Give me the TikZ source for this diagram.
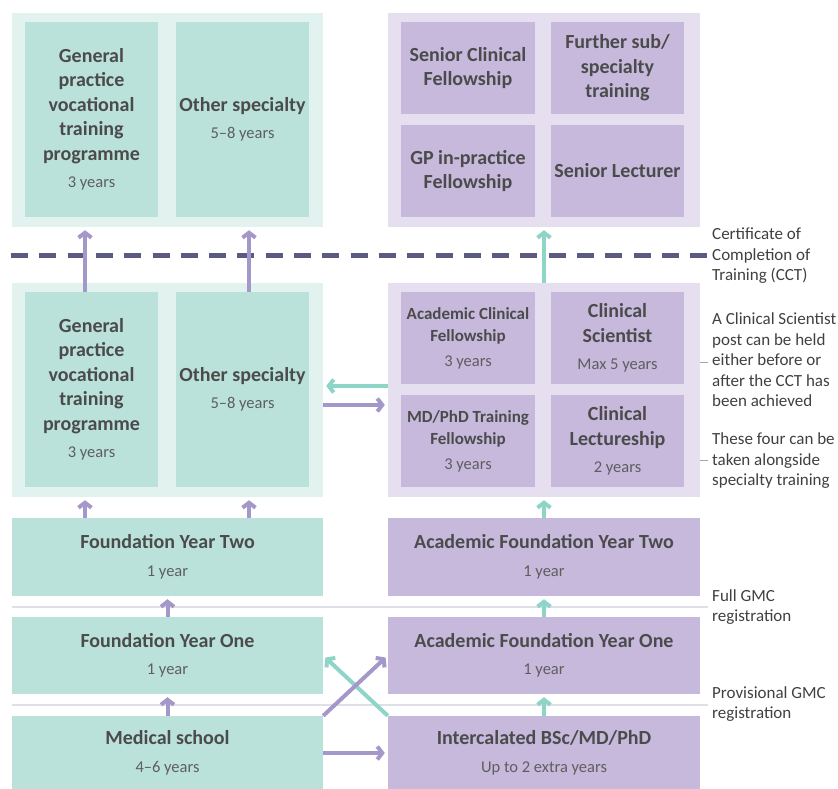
\documentclass[tikz,border=0pt]{standalone}
\usepackage{fontspec}
\setmainfont{Carlito}
\usepackage{xcolor}
\usepackage{tikz}
\usetikzlibrary{arrows.meta,calc,positioning}
\definecolor{tealbox}{HTML}{BAE2DB}
\definecolor{tealpanel}{HTML}{E1F2EF}
\definecolor{purplebox}{HTML}{C6B9DC}
\definecolor{purplepanel}{HTML}{E5DFEF}
\definecolor{tealarrow}{HTML}{8ED5C8}
\definecolor{purplearrow}{HTML}{A497C9}
\definecolor{cctline}{HTML}{5B5A80}
\definecolor{textdark}{HTML}{4B4B4B}
\definecolor{textsub}{HTML}{5E5E5E}
\definecolor{notetext}{HTML}{404040}
\definecolor{sepline}{HTML}{DFDFE8}
\newcommand{\yrs}[1]{\\[3pt]{\mdseries\fontsize{16.5}{19}\selectfont\color{textsub}#1}}
\tikzset{
  box/.style={inner sep=0pt, align=center, text=textdark, font=\bfseries\fontsize{20}{24.5}\selectfont},
  tbox/.style={box, fill=tealbox},
  pbox/.style={box, fill=purplebox},
  smallbox/.style={pbox, font=\bfseries\fontsize{17}{22}\selectfont},
  tpanel/.style={fill=tealpanel, inner sep=0pt, minimum width=311pt, minimum height=214pt},
  ppanel/.style={fill=purplepanel, inner sep=0pt, minimum width=312pt, minimum height=214pt},
  note/.style={anchor=west, align=left, inner sep=0pt, text=notetext, font=\fontsize{17}{20.5}\selectfont},
  tarrow/.style={draw=tealarrow, line width=4pt, -{Straight Barb[length=5pt,width=13pt]}, shorten >=3pt},
  parrow/.style={draw=purplearrow, line width=4pt, -{Straight Barb[length=5pt,width=13pt]}, shorten >=3pt},
  cct/.style={draw=cctline, line width=5pt, dash pattern=on 17pt off 11.3pt},
  sep/.style={draw=sepline, line width=2pt},
  tick/.style={draw=gray!70, line width=0.8pt}
}

\begin{document}
\begin{tikzpicture}[x=1pt,y=-1pt]
    \useasboundingbox (0,0) rectangle (838,789);
    % after the CCT
    \node (topleft) [tpanel] at (167.5,120) {};
    \node (gptop) [tbox,minimum width=133pt,minimum height=195pt] at (91.5,119.5)
    {General\\practice\\vocational\\training\\programme\yrs{3 years}};
    \node (ostop) [tbox,minimum width=133pt,minimum height=195pt] at (242.5,119.5)
    {Other specialty\yrs{5--8 years}};
    \node (topright) [ppanel] at (544,120) {};
    \node (scf) [pbox,minimum width=134pt,minimum height=92pt] at (468,68)
    {Senior Clinical\\Fellowship};
    \node (fss) [pbox,minimum width=133pt,minimum height=92pt] at (617.5,68)
    {Further sub/\\specialty\\training};
    \node (gpf) [pbox,minimum width=134pt,minimum height=92pt] at (468,171)
    {GP in-practice\\Fellowship};
    \node (sl) [pbox,minimum width=133pt,minimum height=92pt] at (617.5,171)
    {Senior Lecturer};
    % specialty training
    \node (midleft) [tpanel] at (167.5,390) {};
    \node (gpmid) [tbox,minimum width=133pt,minimum height=195pt] at (91.5,389.5)
    {General\\practice\\vocational\\training\\programme\yrs{3 years}};
    \node (osmid) [tbox,minimum width=133pt,minimum height=195pt] at (242.5,389.5)
    {Other specialty\yrs{5--8 years}};
    \node (midright) [ppanel] at (544,390) {};
    \node (acf) [smallbox,minimum width=134pt,minimum height=92pt] at (468,338)
    {Academic Clinical\\Fellowship\yrs{3 years}};
    \node (cs) [pbox,minimum width=133pt,minimum height=92pt] at (617.5,338)
    {Clinical\\Scientist\yrs{Max 5 years}};
    \node (mdf) [smallbox,minimum width=134pt,minimum height=92pt] at (468,441)
    {MD/PhD Training\\Fellowship\yrs{3 years}};
    \node (cl) [pbox,minimum width=133pt,minimum height=92pt] at (617.5,441)
    {Clinical\\Lectureship\yrs{2 years}};
    % foundation years
    \node (fy2) [tbox,minimum width=311pt,minimum height=78pt] at (167.5,557)
    {Foundation Year Two\yrs{1 year}};
    \node (afy2) [pbox,minimum width=312pt,minimum height=78pt] at (544,557)
    {Academic Foundation Year Two\yrs{1 year}};
    \node (fy1) [tbox,minimum width=311pt,minimum height=77pt] at (167.5,655.5)
    {Foundation Year One\yrs{1 year}};
    \node (afy1) [pbox,minimum width=312pt,minimum height=77pt] at (544,655.5)
    {Academic Foundation Year One\yrs{1 year}};
    \node (med) [tbox,minimum width=311pt,minimum height=74pt] at (167.5,753)
    {Medical school\yrs{4--6 years}};
    \node (int) [pbox,minimum width=312pt,minimum height=74pt] at (544,753)
    {Intercalated BSc/MD/PhD\yrs{Up to 2 extra years}};
    % notes on the right
    \node (cctnote) [note] at (712,256) {Certificate of\\Completion of\\Training (CCT)};
    \node (csnote) [note] at (712,360) {A Clinical Scientist\\post can be held\\either before or\\after the CCT has\\been achieved};
    \node (fournote) [note] at (712,461) {These four can be\\taken alongside\\specialty training};
    \node (fullnote) [note] at (712,607) {Full GMC\\registration};
    \node (provnote) [note] at (712,704) {Provisional GMC\\registration};
    % lines
    \coordinate (cctL) at (11,255);
    \coordinate (cctR) at (710,255);
    \coordinate (sepA) at (12,607);
    \coordinate (sepB) at (12,705);
    \coordinate (gpx) at (85,0);
    \coordinate (osx) at (249,0);
    \coordinate (ya) at (0,386);
    \coordinate (yb) at (0,405);
    \path[sep] (sepA) -- ([xshift=-4pt]sepA -| fullnote.west);
    \path[sep] (sepB) -- ([xshift=-4pt]sepB -| provnote.west);
    \path[cct] (cctL) -- (cctR);
    \path[tick] (midright.east |- 0,362) -- ([xshift=-4pt]csnote.west |- 0,362);
    \path[tick] (midright.east |- 0,460) -- ([xshift=-4pt]fournote.west |- 0,460);
    % arrows
    \path[parrow] (gpx |- gpmid.north) -- (gpx |- topleft.south);
    \path[parrow] (osx |- osmid.north) -- (osx |- topleft.south);
    \path[tarrow] (midright.north) -- (topright.south);
    \path[parrow] (gpx |- fy2.north) -- (gpx |- midleft.south);
    \path[parrow] (osx |- fy2.north) -- (osx |- midleft.south);
    \path[tarrow] (afy2.north) -- (midright.south);
    \path[parrow] (fy1.north) -- (fy2.south);
    \path[tarrow] (afy1.north) -- (afy2.south);
    \path[parrow] (med.north) -- (fy1.south);
    \path[tarrow] (int.north) -- (afy1.south);
    \path[tarrow] (midright.west |- ya) -- (midleft.east |- ya);
    \path[parrow] (midleft.east |- yb) -- (midright.west |- yb);
    \path[tarrow] (int.north west) -- (fy1.east);
    \path[parrow] (med.north east) -- (afy1.west);
    \path[parrow] (med.east) -- (int.west);
\end{tikzpicture}
\end{document}
